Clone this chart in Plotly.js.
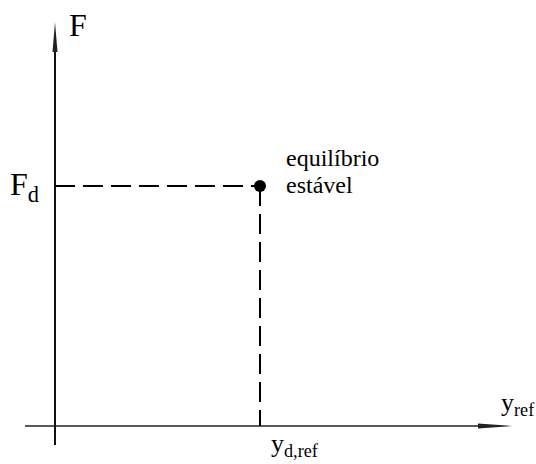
<!DOCTYPE html>
<html><head><meta charset="utf-8">
<script src="https://cdn.plot.ly/plotly-3.0.1.min.js"></script>
<style>
html,body{margin:0;padding:0;background:#fff}
#c{width:536px;height:464px}
</style>
</head><body><div id="c"></div>
<script>
// Equilibrium point (arbitrary units)
const yRef = [205];
const fVal = [240];
const pointLabel1 = "equilíbrio";
const pointLabel2 = "estável";
const xAxisLabel = "y<sub>ref</sub>";
const yAxisLabel = "F";
const fTick = "F<sub>d</sub>";
const yTick = "y<sub>d,ref</sub>";

const fam = "Times New Roman";
const traces = [
  {x:[-30, 440], y:[0,0], mode:'lines', line:{color:'#222', width:1.5}, hoverinfo:'skip'},
  {x:[0,0], y:[-19, 390], mode:'lines', line:{color:'#111', width:2}, hoverinfo:'skip'},
  {x:[0, yRef[0]], y:[fVal[0], fVal[0]], mode:'lines', line:{color:'#000', width:2, dash:'20px,8px'}, hoverinfo:'skip'},
  {x:[yRef[0], yRef[0]], y:[fVal[0], 0], mode:'lines', line:{color:'#000', width:2, dash:'20px,8px'}, hoverinfo:'skip'},
  {x:yRef, y:fVal, mode:'markers', marker:{color:'#000', size:12}, hoverinfo:'skip'}
];
const layout = {
  width:536, height:464, margin:{l:0,r:0,t:0,b:0},
  paper_bgcolor:'#fff', plot_bgcolor:'#fff', showlegend:false,
  font:{family:fam, size:24, color:'#000'},
  xaxis:{range:[-55,481], visible:false},
  yaxis:{range:[-38,426], visible:false},
  shapes:[
    {type:'path', xref:'x', yref:'y', path:'M 423 2.5 L 458 0 L 423 -2.5 Z', fillcolor:'#222', line:{width:0}},
    {type:'path', xref:'x', yref:'y', path:'M -2.5 374 L 0 404 L 2.5 374 Z', fillcolor:'#222', line:{width:0}}
  ],
  annotations:[
    {x:12, y:401, text:yAxisLabel, showarrow:false, xanchor:'left', yanchor:'middle', font:{family:fam, size:32, color:'#000'}},
    {x:-14, y:fVal[0], text:fTick, showarrow:false, xanchor:'right', yanchor:'middle', font:{family:fam, size:32, color:'#000'}},
    {x:214, y:-19, text:yTick, showarrow:false, xanchor:'left', yanchor:'middle', font:{family:fam, size:26, color:'#000'}},
    {x:444, y:22, text:xAxisLabel, showarrow:false, xanchor:'left', yanchor:'middle', font:{family:fam, size:26, color:'#000'}},
    {x:229, y:268, text:pointLabel1, showarrow:false, xanchor:'left', yanchor:'middle', font:{family:fam, size:24, color:'#000'}},
    {x:229, y:241, text:pointLabel2, showarrow:false, xanchor:'left', yanchor:'middle', font:{family:fam, size:24, color:'#000'}}
  ]
};
Plotly.newPlot('c', traces, layout, {displayModeBar:false});
</script></body></html>
